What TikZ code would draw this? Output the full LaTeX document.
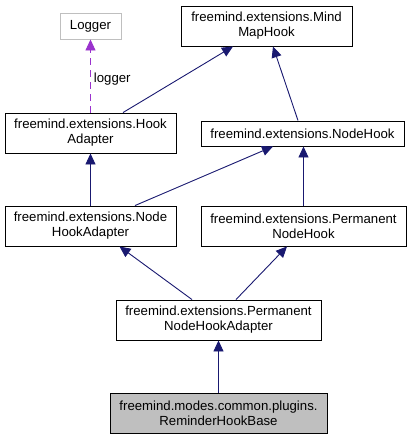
\documentclass[tikz,border=0pt]{standalone}
\usepackage{fontspec}
\setmainfont{Liberation Sans}
\usepackage{tikz}
\usetikzlibrary{arrows.meta}

\definecolor{edgeblue}{HTML}{191970}
\definecolor{usepurple}{HTML}{9A32CD}
\definecolor{boxgrey}{HTML}{BFBFBF}

\begin{document}
\begin{tikzpicture}[x=1pt,y=-1pt,
			box/.style={draw=black,line width=0.9pt,rectangle,inner sep=0pt,align=center,
				font=\fontsize{13.2}{15}\selectfont,minimum height=40},
			inh/.style={draw=edgeblue,line width=0.9pt,-{Triangle[length=11pt,width=10pt,fill=edgeblue]}},
			usage/.style={draw=usepurple,line width=0.9pt,dash pattern=on 7pt off 5pt,
				-{Triangle[length=11pt,width=10pt,fill=usepurple]}},
			]
			\useasboundingbox (0,0) rectangle (412,440);
			
			% classes
			\node[box,draw=boxgrey,minimum width=61,minimum height=26] (logger) at (90.5,26) {Logger};
			\node[box,minimum width=171] (mmh) at (266.5,26) {freemind.extensions.Mind\\MapHook};
			\node[box,minimum width=171] (ha) at (90.5,133) {freemind.extensions.Hook\\Adapter};
			\node[box,minimum width=203,minimum height=25] (nh) at (302.5,133.5) {freemind.extensions.NodeHook};
			\node[box,minimum width=171] (nha) at (90.5,226) {freemind.extensions.Node\\HookAdapter};
			\node[box,minimum width=205] (pnh) at (303.5,226) {freemind.extensions.Permanent\\NodeHook};
			\node[box,minimum width=205] (pnha) at (218.5,320) {freemind.extensions.Permanent\\NodeHookAdapter};
			\node[box,fill=boxgrey,minimum width=217] (rhb) at (218.5,413) {freemind.modes.common.plugins.\\ReminderHookBase};
			
			% usage
			\draw[usage] (ha.north) -- (logger.south)
			node[pos=0.46,right,font=\fontsize{13.2}{15}\selectfont,inner sep=3pt] {logger};
			
			% inheritance
			\draw[inh] ([xshift=32.5]ha.north) -- ([xshift=-33.5]mmh.south);
			\draw[inh] ([xshift=-4.5]nh.north) -- ([xshift=6.5]mmh.south);
			\draw[inh] (nha.north) -- (ha.south);
			\draw[inh] ([xshift=44.5]nha.north) -- ([xshift=-29.5]nh.south);
			\draw[inh] (pnh.north) -- ([xshift=1]nh.south);
			\draw[inh] ([xshift=-26.5]pnha.north) -- ([xshift=29]nha.south);
			\draw[inh] ([xshift=17.5]pnha.north) -- ([xshift=-16.5]pnh.south);
			\draw[inh] (rhb.north) -- (pnha.south);
		\end{tikzpicture}
\end{document}
